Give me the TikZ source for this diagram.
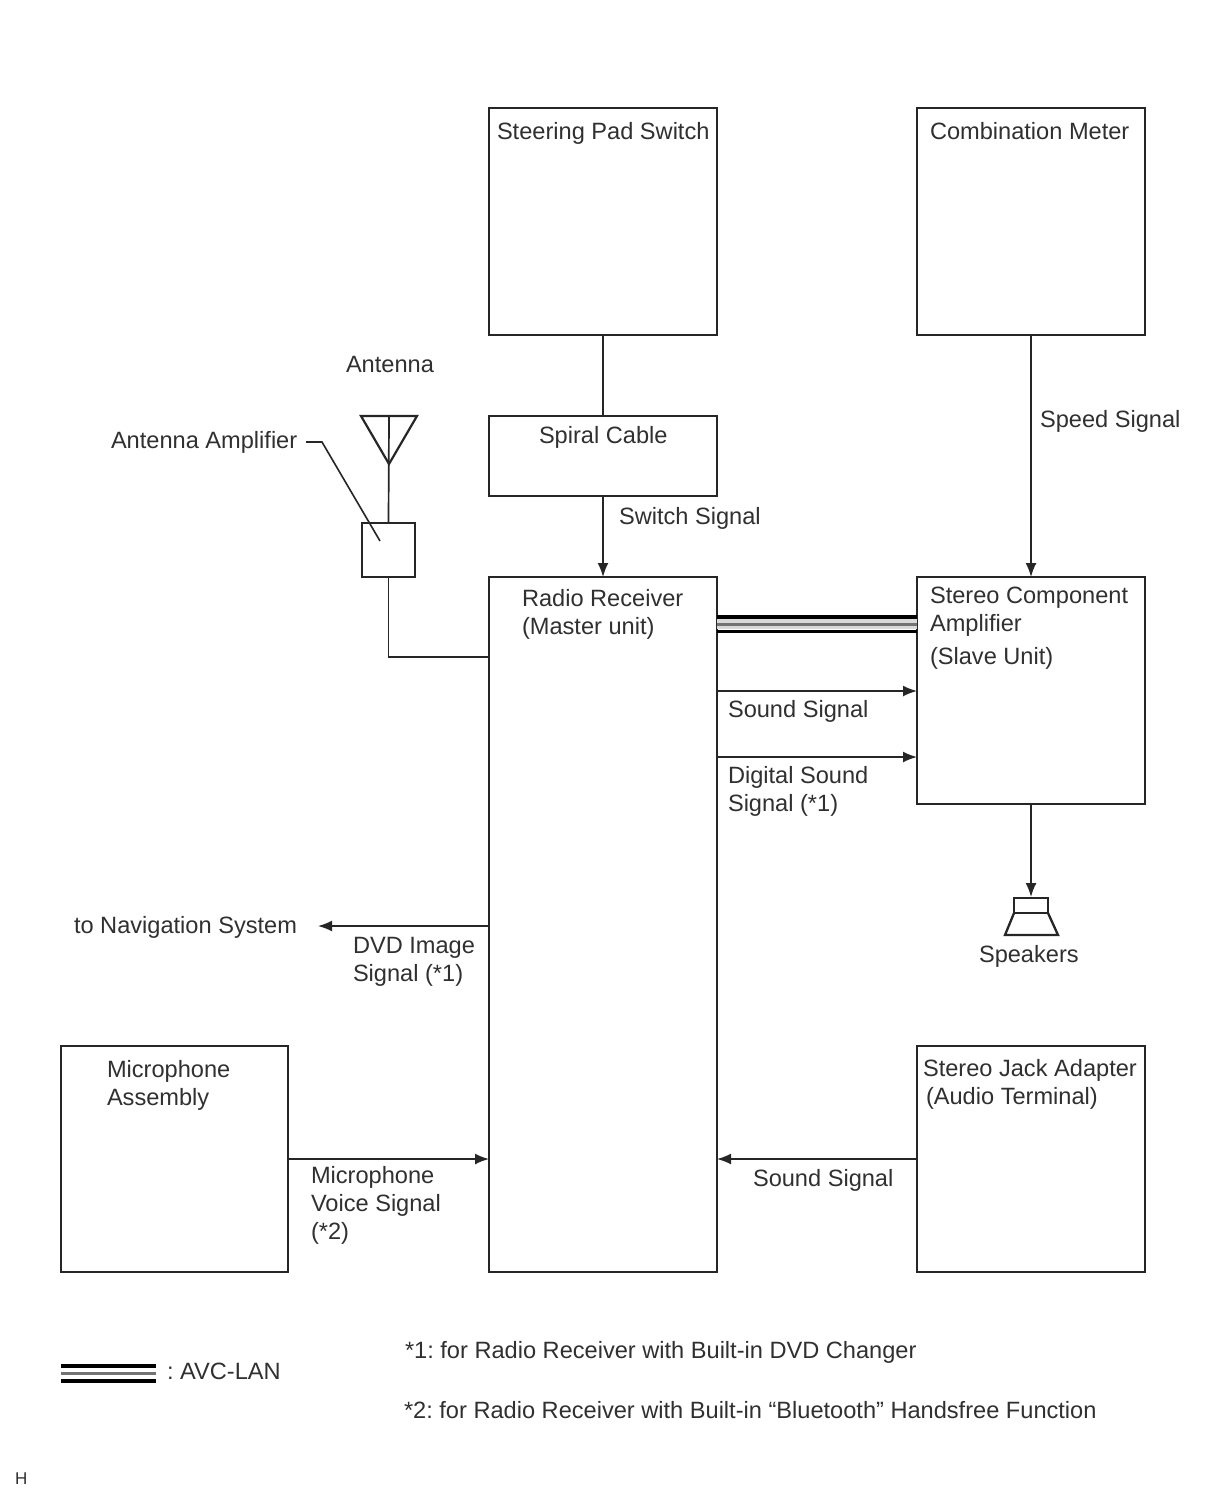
\documentclass[tikz,border=0pt]{standalone}
\usepackage{fontspec}
\setmainfont{Liberation Sans}
\usetikzlibrary{arrows.meta}
\definecolor{ink}{HTML}{262626}
\definecolor{txt}{HTML}{303030}
\tikzset{
  blockbox/.style={draw=ink,line width=2.3pt,fill=white,inner sep=0pt,outer sep=0pt},
  wire/.style={draw=ink,line width=1.7pt},
  sig/.style={wire,-{Latex[length=14pt,width=11pt]}},
  lab/.style={anchor=north west,inner sep=0pt,outer sep=0pt,align=left,text=txt,
     font=\frenchspacing\fontsize{23.6}{28.4}\selectfont,execute at begin node=\strut},
  lanthick/.style={draw=black,line width=3.6pt},
  lanthin/.style={draw=black!55,line width=3pt},
  lanhalo/.style={draw=black!15,line width=10pt}
}
\newcommand\lab[4]{\node[lab] (#1) at (#2,#3-20) {#4};}
\newcommand\boxat[5]{\node[blockbox,minimum width=#4pt-#2pt,minimum height=#5pt-#3pt] (#1) at ({(#2+#4)/2},{(#3+#5)/2}) {};}
\begin{document}
\begin{tikzpicture}[x=1pt,y=-1pt]
\path[use as bounding box,fill=white] (0,0) rectangle (1210,1498);
% blocks
\boxat{steer}{489}{108}{717}{335}
\boxat{combo}{917}{108}{1145}{335}
\boxat{spiral}{489}{416}{717}{496}
\boxat{radio}{489}{577}{717}{1272}
\boxat{stereo}{917}{577}{1145}{804}
\boxat{mic}{61}{1046}{288}{1272}
\boxat{jack}{917}{1046}{1145}{1272}
\boxat{amp}{362}{523}{415}{577}
% free ends
\coordinate (nav) at (318,926);
\coordinate (anttop) at (389,416);
\coordinate (antapex) at (389,464);
\coordinate (antl) at (361,416);
\coordinate (antr) at (417,416);
\coordinate (lead0) at (306,442);
\coordinate (lead1) at (322,442);
\coordinate (lead2) at (380,541);
\coordinate (spktop) at (1031,897);
% connectors
\draw[wire] (steer.south) -- (spiral.north);
\draw[sig] (spiral.south) -- (radio.north);
\draw[sig] (combo.south -| 1031,0) -- (stereo.north -| 1031,0);
\draw[sig] (radio.east |- 0,691) -- (stereo.west |- 0,691);
\draw[sig] (radio.east |- 0,757) -- (stereo.west |- 0,757);
\draw[sig] (stereo.south -| 1031,0) -- (spktop);
\draw[sig] (radio.west |- nav) -- (nav);
\draw[sig] (mic.east) -- (radio.west |- mic.east);
\draw[sig] (jack.west) -- (radio.east |- jack.west);
\draw[wire] (amp.south) |- (radio.west |- 0,657);
\draw[wire] (anttop) -- (amp.north);
\draw[wire,line width=2.2pt,line join=miter] (antl) -- (antr) -- (antapex) -- cycle;
\draw[draw=ink,line width=1.6pt] (lead0) -- (lead1) -- (lead2);
% AVC-LAN
\draw[lanhalo] (radio.east |- 0,624.3) -- (stereo.west |- 0,624.3);
\draw[lanthick] (radio.east |- 0,617) -- (stereo.west |- 0,617);
\draw[lanthin] (radio.east |- 0,624.5) -- (stereo.west |- 0,624.5);
\draw[lanthick] (radio.east |- 0,631.5) -- (stereo.west |- 0,631.5);
% speaker
\draw[draw=ink,line width=2.3pt,line join=miter] (1014,898) rectangle (1048,913);
\draw[draw=ink,line width=2.3pt,line join=miter] (1014,913) -- (1005,935) -- (1058,935) -- (1048,913);
% legend
\coordinate (legl) at (61,0);
\coordinate (legr) at (156,0);
\draw[lanthick] (legl |- 0,1366) -- (legr |- 0,1366);
\draw[lanthin,line width=2.5pt] (legl |- 0,1373.5) -- (legr |- 0,1373.5);
\draw[lanthick] (legl |- 0,1381) -- (legr |- 0,1381);
% labels
\lab{tsteer}{497}{140}{Steering Pad Switch}
\lab{tcombo}{930}{140}{Combination Meter}
\lab{tant}{346}{373}{Antenna}
\lab{tamp}{111}{449}{Antenna Amplifier}
\lab{tspiral}{539}{444}{Spiral Cable}
\lab{tswitch}{619}{525}{Switch Signal}
\lab{tspeed}{1040}{428}{Speed Signal}
\lab{tradio}{522}{609}{Radio Receiver\\(Master unit)}
\lab{tstereo}{930}{607}{Stereo Component\\Amplifier\\[4pt](Slave Unit)}
\lab{tsound}{728}{718}{Sound Signal}
\lab{tdigital}{728}{786}{Digital Sound\\Signal (*1)}
\lab{tspk}{979}{963}{Speakers}
\lab{tnav}{74}{934}{to Navigation System}
\lab{tdvd}{353}{957}{DVD Image\\Signal (*1)}
\lab{tmic}{107}{1080}{Microphone\\Assembly}
\lab{tjack}{923}{1079}{Stereo Jack Adapter\\\hspace*{3pt}(Audio Terminal)}
\lab{tvoice}{311}{1186}{Microphone\\Voice Signal\\(*2)}
\lab{tsound2}{753}{1187}{Sound Signal}
\lab{tlan}{167}{1380}{: AVC-LAN}
\lab{tn1}{405}{1359}{*1: for Radio Receiver with Built-in DVD Changer}
\lab{tn2}{404}{1419}{*2: for Radio Receiver with Built-in “Bluetooth” Handsfree Function}
\node[anchor=base west,inner sep=0pt,text=txt,font=\fontsize{17}{19}\selectfont] (th) at (15,1484) {H};
\end{tikzpicture}
\end{document}
